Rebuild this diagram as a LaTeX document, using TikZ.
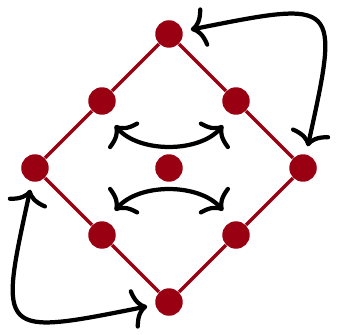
\documentclass[tikz,border=0pt]{standalone}
\usetikzlibrary{arrows.meta}
\definecolor{darkred}{RGB}{153,0,18}
\tikzset{dot/.style={circle, fill=darkred, inner sep=0pt, minimum size=0.41cm},
    edge/.style={darkred, line width=1.4pt},
    swap/.style={<->, line width=1.8pt}}

\begin{document}
\begin{tikzpicture}[>={Computer Modern Rightarrow[length=6.5pt,width=17pt]}]
    \useasboundingbox (-2.522,-2.478) rectangle (2.522,2.507);
    % Points of the square
    \node[dot] (t) at (0,2) {};
    \node[dot] (tr) at (1,1) {};
    \node[dot] (r) at (2,0) {};
    \node[dot] (br) at (1,-1) {};
    \node[dot] (b) at (0,-2) {};
    \node[dot] (bl) at (-1,-1) {};
    \node[dot] (l) at (-2,0) {};
    \node[dot] (tl) at (-1,1) {};
    \node[dot] (c) at (0,0) {};
    % Edges
    \draw[edge] (t) -- (tr) -- (r) -- (br) -- (b) -- (bl) -- (l) -- (tl) -- (t);
    % Outer swaps
    \draw[swap, shorten <=3.4pt, shorten >=3.4pt] (t) .. controls (2.55,2.51) .. (r);
    \draw[swap, shorten <=3.4pt, shorten >=3.4pt] (l) .. controls (-2.55,-2.51) .. (b);
    % Inner swaps
    \draw[swap, shorten <=6pt, shorten >=6pt] (tl.-75) to[out=-49, in=-131, looseness=1.03] (tr.-105);
    \draw[swap, shorten <=6pt, shorten >=6pt] (bl.75) to[out=49, in=131, looseness=1.03] (br.105);
\end{tikzpicture}
\end{document}
